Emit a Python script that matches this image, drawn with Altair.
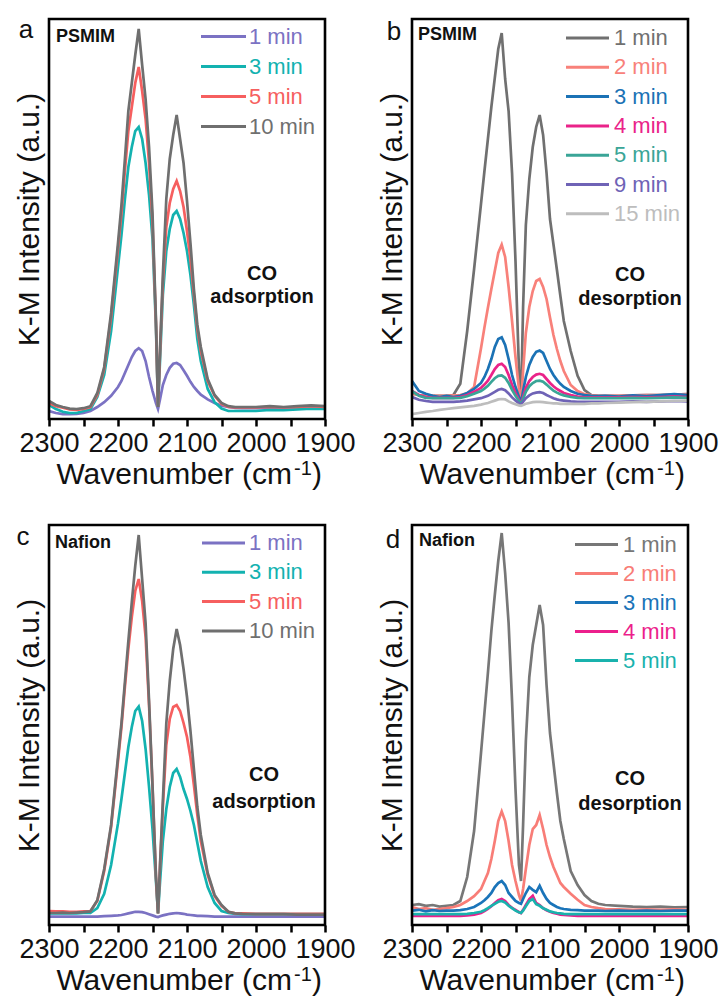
import altair as alt
import pandas as pd

# ---------------- data ----------------
# shared wavenumber grid (cm^-1)
W = [2300, 2290, 2280, 2270, 2260, 2250, 2240, 2230, 2220, 2210,
     2200, 2195, 2190, 2185, 2180, 2175, 2170, 2165, 2160, 2155,
     2150, 2145, 2142, 2139, 2135, 2130, 2125, 2120, 2115, 2110,
     2105, 2100, 2095, 2090, 2085, 2080, 2070, 2060, 2050, 2040,
     2030, 2020, 2000, 1980, 1960, 1940, 1920, 1900]

# panel a : PSMIM, CO adsorption
A_NAMES = ["1 min", "3 min", "5 min", "10 min"]
A_COLORS = ["#7b72c3", "#13b2b0", "#f65f5f", "#6f6f6f"]
A_1MIN = [2.0, 1.5, 1.2, 1.2, 1.3, 1.5, 2.0, 3.0, 4.2, 5.8,
          8.0, 9.5, 11.5, 13.5, 15.5, 17.0, 17.7, 17.0, 14.5, 10.5,
          7.0, 4.0, 2.5, 5.0, 8.5, 11.0, 12.8, 13.8, 14.0, 13.5,
          12.2, 10.8, 9.3, 8.0, 7.0, 6.1, 4.9, 4.0, 3.3, 3.0,
          2.8, 2.7, 2.7, 2.8, 2.7, 2.8, 2.9, 2.8]
A_3MIN = [3.5, 2.5, 1.8, 1.5, 1.5, 2.0, 2.5, 5.5, 11.0, 22.0,
          38.0, 46.0, 55.0, 63.0, 68.0, 72.0, 73.0, 70.0, 64.0, 56.0,
          45.0, 23.0, 3.0, 15.0, 31.0, 42.0, 47.5, 51.0, 52.0, 50.0,
          46.5, 42.0, 36.0, 28.5, 20.0, 14.5, 7.5, 4.2, 2.6, 2.0,
          2.0, 2.0, 2.0, 2.3, 2.2, 2.4, 2.6, 2.5]
A_5MIN = [4.0, 3.2, 2.8, 2.4, 2.3, 2.5, 3.0, 6.0, 12.5, 25.5,
          42.5, 51.5, 62.0, 72.0, 78.0, 84.0, 88.0, 82.0, 75.0, 64.0,
          49.0, 24.0, 3.0, 17.0, 34.0, 48.0, 54.0, 57.5, 59.5, 57.0,
          53.0, 47.0, 40.0, 31.0, 22.5, 17.0, 9.5, 5.8, 3.8, 3.0,
          2.9, 2.9, 2.9, 3.0, 2.9, 3.0, 3.2, 3.0]
A_10MIN = [4.5, 3.5, 3.0, 2.6, 2.5, 2.7, 3.2, 6.5, 13.0, 26.5,
           44.0, 53.5, 65.0, 77.0, 84.0, 91.0, 97.5, 88.5, 80.0, 68.0,
           51.5, 25.0, 3.0, 18.0, 36.0, 55.0, 65.0, 71.0, 76.0, 70.0,
           64.0, 54.5, 44.0, 32.5, 23.5, 18.0, 10.0, 6.0, 4.0, 3.2,
           3.0, 3.0, 3.0, 3.2, 3.0, 3.2, 3.4, 3.2]

# panel b : PSMIM, CO desorption
B_NAMES = ["1 min", "2 min", "3 min", "4 min", "5 min", "9 min", "15 min"]
B_COLORS = ["#707070", "#f8817a", "#1b72b5", "#ea2389", "#3aa597", "#6f63b6", "#bdbdbd"]
B_1MIN = [6.5, 6.0, 5.8, 5.8, 5.8, 5.8, 6.0, 8.8, 22.0, 37.5,
          53.8, 62.0, 70.0, 78.0, 85.3, 92.5, 96.5, 85.0, 77.0, 61.5,
          39.5, 12.5, 3.8, 28.0, 48.5, 60.0, 68.0, 73.0, 76.0, 71.0,
          61.5, 50.0, 43.7, 37.3, 30.8, 24.5, 17.0, 10.8, 7.2, 6.0,
          5.8, 5.8, 5.8, 5.9, 6.0, 6.0, 6.1, 6.2]
B_2MIN = [6.3, 6.0, 5.8, 5.8, 5.8, 5.8, 5.9, 6.0, 6.4, 8.0,
          17.7, 22.9, 27.8, 32.5, 37.0, 41.5, 43.6, 40.5, 33.0, 24.5,
          15.5, 7.5, 3.8, 12.0, 21.5, 28.0, 32.0, 34.5, 35.0, 33.0,
          30.0, 25.4, 21.0, 17.5, 14.5, 12.0, 8.5, 7.0, 6.2, 5.9,
          5.8, 5.8, 5.8, 5.9, 6.0, 6.0, 6.1, 6.2]
B_3MIN = [9.5, 7.0, 6.3, 5.8, 5.5, 5.8, 5.5, 5.8, 6.5, 7.5,
          9.0, 10.5, 12.5, 15.0, 18.0, 20.0, 20.4, 18.5, 15.0, 11.0,
          8.0, 5.5, 4.0, 7.0, 10.5, 13.5, 15.5, 16.8, 17.1, 16.5,
          14.5, 12.5, 11.0, 9.8, 8.8, 8.0, 7.0, 6.3, 6.0, 5.8,
          5.7, 5.8, 5.6, 5.9, 5.7, 6.0, 6.2, 6.0]
B_4MIN = [7.0, 6.0, 5.5, 5.3, 5.3, 5.3, 5.3, 5.5, 6.0, 6.8,
          7.8, 8.6, 9.6, 11.0, 12.5, 13.5, 13.8, 13.0, 11.0, 8.5,
          6.5, 4.8, 3.8, 5.5, 7.8, 9.5, 10.5, 11.1, 11.3, 11.0,
          10.0, 9.0, 8.2, 7.5, 7.0, 6.5, 6.0, 5.6, 5.4, 5.4,
          5.4, 5.4, 5.4, 5.5, 5.4, 5.5, 5.6, 5.5]
B_5MIN = [7.0, 5.8, 5.3, 5.2, 5.2, 5.2, 5.2, 5.3, 5.7, 6.3,
          7.0, 7.6, 8.3, 9.3, 10.2, 10.8, 10.9, 10.3, 9.0, 7.3,
          5.8, 4.5, 3.8, 5.0, 6.8, 8.2, 9.0, 9.5, 9.6, 9.3,
          8.6, 7.8, 7.1, 6.6, 6.2, 5.9, 5.5, 5.3, 5.2, 5.2,
          5.2, 5.2, 5.2, 5.3, 5.2, 5.3, 5.4, 5.3]
B_9MIN = [5.5, 4.8, 4.5, 4.3, 4.3, 4.3, 4.3, 4.4, 4.6, 4.9,
          5.2, 5.5, 5.8, 6.3, 6.8, 7.3, 7.5, 7.2, 6.4, 5.4,
          4.6, 3.9, 3.6, 4.3, 5.2, 5.9, 6.4, 6.6, 6.7, 6.5,
          6.0, 5.6, 5.2, 4.9, 4.7, 4.6, 4.4, 4.3, 4.3, 4.3,
          4.3, 4.3, 4.3, 4.4, 4.3, 4.4, 4.5, 4.4]
B_15MIN = [1.2, 1.5, 1.8, 2.0, 2.3, 2.5, 2.7, 2.9, 3.1, 3.3,
           3.6, 3.8, 4.0, 4.3, 4.6, 4.9, 5.0, 4.9, 4.4, 4.0,
           3.7, 3.4, 3.3, 3.5, 3.8, 4.0, 4.2, 4.3, 4.3, 4.2,
           4.1, 4.0, 3.9, 3.9, 3.8, 3.8, 3.8, 3.8, 3.8, 3.9,
           3.9, 4.0, 4.1, 4.2, 4.3, 4.4, 4.5, 4.6]

# panel c : Nafion, CO adsorption
C_NAMES = ["1 min", "3 min", "5 min", "10 min"]
C_COLORS = ["#7b72c3", "#13b2b0", "#f65f5f", "#6f6f6f"]
C_1MIN = [2.1, 2.1, 2.1, 2.1, 2.1, 2.1, 2.1, 2.1, 2.2, 2.3,
          2.4, 2.5, 2.7, 2.9, 3.1, 3.3, 3.3, 3.2, 3.0, 2.7,
          2.4, 2.1, 2.0, 2.2, 2.4, 2.6, 2.8, 2.9, 3.0, 2.9,
          2.8, 2.6, 2.5, 2.4, 2.3, 2.3, 2.2, 2.1, 2.1, 2.1,
          2.1, 2.1, 2.1, 2.1, 2.1, 2.1, 2.1, 2.1]
C_3MIN = [2.9, 2.9, 2.9, 2.9, 2.9, 3.0, 3.0, 4.2, 7.8, 15.0,
          25.4, 31.5, 38.0, 44.5, 49.5, 53.5, 54.6, 51.0, 44.0, 34.5,
          24.0, 11.0, 2.9, 11.0, 21.0, 29.0, 34.5, 38.0, 39.0, 37.0,
          34.0, 31.5, 28.5, 25.0, 20.5, 16.0, 9.5, 5.5, 3.5, 3.0,
          2.8, 2.7, 2.7, 2.7, 2.7, 2.7, 2.7, 2.7]
C_5MIN = [3.5, 3.4, 3.4, 3.3, 3.3, 3.4, 3.5, 6.0, 13.5, 24.5,
          41.0, 49.5, 59.5, 69.0, 77.0, 83.5, 86.5, 81.0, 72.0, 55.0,
          34.5, 12.0, 2.9, 15.0, 29.5, 45.0, 51.5, 54.5, 55.0, 53.5,
          50.5, 47.0, 42.0, 35.0, 27.5, 21.0, 12.5, 7.2, 4.8, 3.3,
          2.9, 2.9, 2.8, 2.8, 2.8, 2.8, 2.8, 2.8]
C_10MIN = [3.0, 3.0, 3.1, 3.0, 3.1, 3.2, 3.4, 6.2, 14.0, 25.0,
           42.0, 50.4, 60.7, 71.0, 80.7, 89.8, 97.5, 86.5, 75.4, 56.0,
           35.0, 12.5, 2.9, 15.5, 31.0, 50.4, 61.0, 69.0, 74.0, 70.0,
           64.0, 57.0, 48.5, 39.0, 29.5, 22.5, 13.0, 7.5, 5.0, 3.3,
           2.9, 2.8, 2.7, 2.7, 2.7, 2.6, 2.6, 2.6]

# panel d : Nafion, CO desorption
D_NAMES = ["1 min", "2 min", "3 min", "4 min", "5 min"]
D_COLORS = ["#777777", "#f87d77", "#1a74b9", "#ec1f8c", "#19b2ad"]
D_1MIN = [5.0, 5.2, 4.8, 5.0, 4.6, 4.8, 5.0, 6.0, 12.0, 23.5,
          43.0, 53.0, 63.0, 73.5, 82.5, 91.0, 98.0, 88.0, 75.5, 56.0,
          34.0, 15.0, 11.0, 25.0, 46.0, 62.0, 70.0, 75.0, 80.0, 75.0,
          60.0, 48.0, 40.5, 33.0, 26.0, 21.5, 13.5, 10.0, 7.5, 6.0,
          5.3, 5.0, 4.8, 4.6, 4.5, 4.6, 4.4, 4.5]
D_2MIN = [4.5, 4.0, 4.2, 3.8, 4.0, 4.2, 4.5, 5.0, 6.0, 7.2,
          9.0, 11.0, 13.0, 16.5, 21.0, 26.0, 28.4, 26.0, 21.0, 15.0,
          11.0, 7.5, 6.0, 9.0, 14.0, 20.0, 24.0, 25.0, 27.5, 24.0,
          20.0, 17.0, 14.5, 12.5, 10.5, 9.5, 7.8, 6.3, 5.0, 4.5,
          4.2, 4.0, 3.9, 3.8, 3.9, 3.8, 3.9, 3.8]
D_3MIN = [3.6, 3.8, 3.4, 3.7, 3.5, 3.6, 3.6, 3.7, 4.0, 4.5,
          5.5, 6.2, 7.0, 8.0, 9.5, 10.5, 11.0, 10.0, 8.0, 7.0,
          6.0, 5.5, 5.3, 6.5, 8.0, 9.5, 8.8, 8.2, 9.8, 8.0,
          6.5, 5.5, 5.0, 4.5, 4.2, 4.0, 3.8, 3.7, 3.6, 3.6,
          3.6, 3.5, 3.6, 3.5, 3.6, 3.5, 3.6, 3.6]
D_4MIN = [2.3, 2.3, 2.3, 2.3, 2.3, 2.3, 2.3, 2.3, 2.4, 2.6,
          3.0, 3.5, 4.0, 4.7, 5.5, 6.2, 6.5, 6.0, 5.0, 4.3,
          3.8, 3.2, 3.0, 3.8, 5.0, 6.5, 7.3, 5.5, 5.0, 4.2,
          3.7, 3.3, 3.0, 2.8, 2.6, 2.5, 2.4, 2.3, 2.3, 2.3,
          2.3, 2.3, 2.3, 2.3, 2.3, 2.3, 2.3, 2.3]
D_5MIN = [2.7, 2.7, 2.7, 2.7, 2.7, 2.7, 2.7, 2.7, 2.8, 3.0,
          3.3, 3.7, 4.2, 4.8, 5.3, 5.8, 6.0, 5.6, 4.8, 4.2,
          3.6, 3.2, 3.0, 3.6, 4.7, 6.0, 6.5, 5.2, 4.8, 4.2,
          3.8, 3.4, 3.2, 3.0, 2.9, 2.8, 2.7, 2.7, 2.7, 2.7,
          2.7, 2.7, 2.7, 2.7, 2.7, 2.7, 2.7, 2.7]

TICK_VALUES = [2300, 2250, 2200, 2150, 2100, 2050, 2000, 1950, 1900]

# ---------------- layout ----------------
PANEL_W, PANEL_H = 276, 400
FONT = "Liberation Sans"
INK = "#111111"


def text_layer(t, x, y, size, weight="normal", align="left"):
    return alt.Chart(pd.DataFrame({"t": [t]})).mark_text(
        align=align, baseline="alphabetic", fontSize=size, fontWeight=weight,
        font=FONT, color=INK
    ).encode(x=alt.value(x), y=alt.value(y), text="t:N")


def make_panel(letter, material, process, names, series, colors, spec):
    rows = []
    for name, vals in zip(names, series):
        for w, v in zip(W, vals):
            rows.append({"wavenumber": w, "intensity": v, "series": name})
    df = pd.DataFrame(rows)

    x = alt.X(
        "wavenumber:Q",
        scale=alt.Scale(domain=[1900, 2300], reverse=True, nice=False, zero=False),
        axis=alt.Axis(
            values=TICK_VALUES,
            labelExpr="datum.value % 100 == 0 ? '' + datum.value : ''",
            labelFontSize=27, labelPadding=4, labelOverlap=False, labelFlush=False,
            labelColor=INK, labelFont=FONT,
            tickSize=7, tickWidth=2.5, tickColor="black",
            domain=False, grid=False, title=None,
        ),
    )
    y = alt.Y(
        "intensity:Q",
        scale=alt.Scale(domain=[0, 100], nice=False, zero=False),
        axis=alt.Axis(
            labels=False, ticks=False, domain=False, grid=False, minExtent=0,
            title="K-M Intensity (a.u.)", titleFontSize=30, titleFontWeight="normal",
            titlePadding=5, titleColor=INK, titleFont=FONT,
        ),
    )
    lines = alt.Chart(df).mark_line(strokeWidth=2.7, clip=True).encode(
        x=x, y=y,
        color=alt.Color("series:N", scale=alt.Scale(domain=names, range=colors), legend=None),
    )

    leg_df = pd.DataFrame({"label": names, "color": colors, "idx": list(range(len(names)))})
    ly = alt.Y("idx:Q", scale=alt.Scale(domain=[0, 1], range=[spec["ly0"], spec["ly0"] + spec["lsp"]]),
               axis=None)
    leg_rule = alt.Chart(leg_df).mark_rule(strokeWidth=3).encode(
        x=alt.value(spec["lx0"]), x2=alt.value(spec["lx1"]), y=ly,
        color=alt.Color("color:N", scale=None),
    )
    leg_text = alt.Chart(leg_df).mark_text(align="left", baseline="middle", fontSize=22, font=FONT).encode(
        x=alt.value(spec["tx"]), y=ly, text="label:N",
        color=alt.Color("color:N", scale=None),
    )

    frame = alt.Chart(pd.DataFrame({"f": [0]})).mark_rect(
        filled=False, stroke="black", strokeWidth=2.6, fillOpacity=0
    ).encode(x=alt.value(0), x2=alt.value(PANEL_W), y=alt.value(0), y2=alt.value(PANEL_H))

    # x-axis title with a real superscript: "Wavenumber (cm" + "-1" + ")"
    ty = PANEL_H + 65
    annots = [
        text_layer(letter, spec["let_x"], spec["let_y"], 26, align="center"),
        text_layer(material, spec["mat_x"], spec["mat_y"], 18, weight="bold"),
        text_layer("CO", spec["co_x"], spec["co_y"], 20, weight="bold", align="center"),
        text_layer(process, spec["co_x"], spec["pr_y"], 20, weight="bold", align="center"),
        text_layer("Wavenumber (cm", 243, ty, 30, align="right"),
        text_layer("-1", 245, ty - 9, 20, align="left"),
        text_layer(")", 263, ty, 30, align="left"),
    ]
    return alt.layer(lines, leg_rule, leg_text, *annots, frame).resolve_scale(
        y="independent", color="independent"
    ).properties(width=PANEL_W, height=PANEL_H)


pa = make_panel("a", "PSMIM", "adsorption", A_NAMES, [A_1MIN, A_3MIN, A_5MIN, A_10MIN], A_COLORS,
                dict(ly0=17.5, lsp=30, lx0=152, lx1=197, tx=200, let_x=-23, let_y=19,
                     mat_x=7, mat_y=23, co_x=213, co_y=261, pr_y=284))
pb = make_panel("b", "PSMIM", "desorption", B_NAMES,
                [B_1MIN, B_2MIN, B_3MIN, B_4MIN, B_5MIN, B_9MIN, B_15MIN], B_COLORS,
                dict(ly0=19, lsp=29.3, lx0=154, lx1=197, tx=202, let_x=-18, let_y=21,
                     mat_x=6, mat_y=21, co_x=218, co_y=262, pr_y=286))
pc = make_panel("c", "Nafion", "adsorption", C_NAMES, [C_1MIN, C_3MIN, C_5MIN, C_10MIN], C_COLORS,
                dict(ly0=18, lsp=29.3, lx0=153, lx1=196, tx=200, let_x=-26, let_y=20,
                     mat_x=6, mat_y=23, co_x=215, co_y=256, pr_y=283))
pd_ = make_panel("d", "Nafion", "desorption", D_NAMES, [D_1MIN, D_2MIN, D_3MIN, D_4MIN, D_5MIN], D_COLORS,
                 dict(ly0=19.5, lsp=29, lx0=163, lx1=206, tx=211, let_x=-19, let_y=23,
                      mat_x=7, mat_y=21, co_x=218, co_y=260, pr_y=285))

chart = alt.concat(
    pa, pb, pc, pd_, columns=2, spacing={"row": 106, "column": 87}, bounds="flush"
).properties(
    padding={"left": 14, "top": 17, "right": 0, "bottom": 0}
).configure(font=FONT).configure_view(stroke=None)

chart.save("out.html", embed_options={"renderer": "svg", "actions": False})
